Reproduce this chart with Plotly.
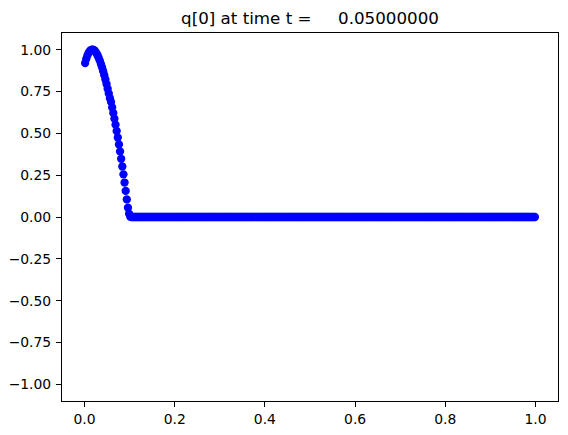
import numpy as np
import plotly.graph_objects as go

# Cell count and domain
n_cells = 400
x_lo, x_hi = 0.0, 1.0

# q[0] values: hump near the left boundary, then zeros
q_hump = [0.92, 0.945, 0.965, 0.98, 0.99, 0.997, 1.0, 1.0, 0.997, 0.99,
          0.98, 0.967, 0.952, 0.935, 0.915, 0.895, 0.872, 0.848, 0.822, 0.795,
          0.767, 0.738, 0.71, 0.688, 0.655, 0.622, 0.588, 0.552, 0.514, 0.475,
          0.434, 0.392, 0.348, 0.302, 0.255, 0.206, 0.156, 0.105, 0.056, 0.02,
          0.003]
q_tail = [0, 0, 0, 0, 0, 0, 0, 0, 0, 0, 0, 0, 0, 0, 0, 0, 0, 0, 0, 0,
          0, 0, 0, 0, 0, 0, 0, 0, 0, 0, 0, 0, 0, 0, 0, 0, 0, 0, 0, 0,
          0, 0, 0, 0, 0, 0, 0, 0, 0, 0, 0, 0, 0, 0, 0, 0, 0, 0, 0, 0,
          0, 0, 0, 0, 0, 0, 0, 0, 0, 0, 0, 0, 0, 0, 0, 0, 0, 0, 0, 0,
          0, 0, 0, 0, 0, 0, 0, 0, 0, 0, 0, 0, 0, 0, 0, 0, 0, 0, 0, 0,
          0, 0, 0, 0, 0, 0, 0, 0, 0, 0, 0, 0, 0, 0, 0, 0, 0, 0, 0, 0,
          0, 0, 0, 0, 0, 0, 0, 0, 0, 0, 0, 0, 0, 0, 0, 0, 0, 0, 0, 0,
          0, 0, 0, 0, 0, 0, 0, 0, 0, 0, 0, 0, 0, 0, 0, 0, 0, 0, 0, 0,
          0, 0, 0, 0, 0, 0, 0, 0, 0, 0, 0, 0, 0, 0, 0, 0, 0, 0, 0, 0,
          0, 0, 0, 0, 0, 0, 0, 0, 0, 0, 0, 0, 0, 0, 0, 0, 0, 0, 0, 0,
          0, 0, 0, 0, 0, 0, 0, 0, 0, 0, 0, 0, 0, 0, 0, 0, 0, 0, 0, 0,
          0, 0, 0, 0, 0, 0, 0, 0, 0, 0, 0, 0, 0, 0, 0, 0, 0, 0, 0, 0,
          0, 0, 0, 0, 0, 0, 0, 0, 0, 0, 0, 0, 0, 0, 0, 0, 0, 0, 0, 0,
          0, 0, 0, 0, 0, 0, 0, 0, 0, 0, 0, 0, 0, 0, 0, 0, 0, 0, 0, 0,
          0, 0, 0, 0, 0, 0, 0, 0, 0, 0, 0, 0, 0, 0, 0, 0, 0, 0, 0, 0,
          0, 0, 0, 0, 0, 0, 0, 0, 0, 0, 0, 0, 0, 0, 0, 0, 0, 0, 0, 0,
          0, 0, 0, 0, 0, 0, 0, 0, 0, 0, 0, 0, 0, 0, 0, 0, 0, 0, 0, 0,
          0, 0, 0, 0, 0, 0, 0, 0, 0, 0, 0, 0, 0, 0, 0, 0, 0, 0, 0]
q_values = q_hump + q_tail

# tick labels
x_tickvals = [0.0, 0.2, 0.4, 0.6, 0.8, 1.0]
x_ticktext = ["0.0", "0.2", "0.4", "0.6", "0.8", "1.0"]
y_tickvals = [1.0, 0.75, 0.5, 0.25, 0.0, -0.25, -0.5, -0.75, -1.0]
y_ticktext = ["1.00", "0.75", "0.50", "0.25", "0.00",
              "\u22120.25", "\u22120.50", "\u22120.75", "\u22121.00"]

title_text = "q[0] at time t =\u00a0\u00a0\u00a0\u00a0\u00a00.05000000"

dx = (x_hi - x_lo) / n_cells
x_centers = x_lo + dx * (np.arange(len(q_values)) + 0.5)

fig = go.Figure()
fig.add_trace(go.Scatter(
    x=x_centers, y=q_values, mode="markers",
    marker=dict(color="#0000ff", size=8.3, line=dict(width=0)),
    showlegend=False, hoverinfo="skip",
))

# the page body adds an 8px offset, so the figure is 560x427
fig_w, fig_h = 560, 427
font = "DejaVu Sans, sans-serif"
axis_common = dict(
    showgrid=False, zeroline=False, showline=True, linecolor="black",
    linewidth=1, mirror=True, ticks="outside", ticklen=5, tickwidth=1,
    tickcolor="black", tickfont=dict(family=font, size=13.9, color="black"),
    automargin=False,
)
fig.update_layout(
    width=fig_w, height=fig_h,
    margin=dict(l=54, r=10, t=25, b=34, pad=0, autoexpand=False),
    paper_bgcolor="white", plot_bgcolor="white",
    title=dict(text=title_text, x=0.5, xref="paper",
               y=1 - 10.5 / fig_h, yref="container", yanchor="middle",
               automargin=False,
               font=dict(family=font, size=16.7, color="black")),
    xaxis=dict(range=[-0.05, 1.05], tickvals=x_tickvals, ticktext=x_ticktext,
               **axis_common),
    yaxis=dict(range=[-1.1, 1.1], tickvals=y_tickvals, ticktext=y_ticktext,
               ticklabelstandoff=2, **axis_common),
)
fig.write_html("out.html")
